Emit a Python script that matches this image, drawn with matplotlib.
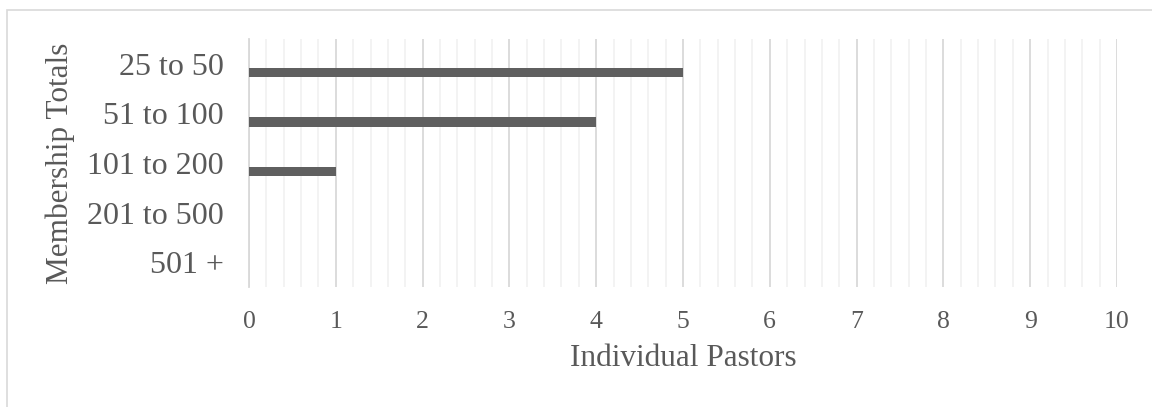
import matplotlib.pyplot as plt
from matplotlib.patches import Rectangle
from matplotlib.ticker import MultipleLocator

# --- data ---
categories = ["25 to 50", "51 to 100", "101 to 200", "201 to 500", "501 +"]
pastors = [5, 4, 1, 0, 0]
x_ticks = list(range(0, 11))

text_color = "#595959"
bar_color = "#5f5f5f"

plt.rcParams["font.family"] = ["Liberation Serif", "DejaVu Serif"]

fig = plt.figure(figsize=(11.52, 4.07), dpi=100)
ax = fig.add_axes([249 / 1152, 1 - 287 / 407, (1117 - 249) / 1152, (287 - 39) / 407])

# outer chart border (runs off the right and bottom edge)
fig.patches.append(Rectangle((7 / 1152, -0.1), 1.2, 1 - 10 / 407 + 0.1,
                             transform=fig.transFigure, fill=False,
                             edgecolor="#d9d9d9", linewidth=1.2))

pos = list(range(len(categories)))
bar_pos = [p + 0.17 for p in pos]
ax.barh(bar_pos, pastors, height=0.19, color=bar_color, zorder=3)

ax.set_xlim(0, 10)
ax.set_ylim(len(categories) - 0.5, -0.5)
ax.set_xticks(x_ticks)
ax.xaxis.set_minor_locator(MultipleLocator(0.2))
ax.set_yticks(pos)
ax.set_yticklabels(categories)

ax.grid(axis="x", which="major", color="#d9d9d9", linewidth=1.3, zorder=0)
ax.grid(axis="x", which="minor", color="#f2f2f2", linewidth=1.3, zorder=0)
ax.grid(axis="y", visible=False)

for side in ["top", "right", "bottom"]:
    ax.spines[side].set_visible(False)
ax.spines["left"].set_color("#d9d9d9")
ax.spines["left"].set_linewidth(1.3)

ax.tick_params(axis="x", which="both", length=0, pad=17, labelsize=18.5, labelcolor=text_color)
ax.tick_params(axis="y", length=0, pad=18, labelsize=23, labelcolor=text_color)

ax.set_xlabel("Individual Pastors", fontsize=22.5, color=text_color, labelpad=8)
ax.set_ylabel("Membership Totals", fontsize=22.5, color=text_color, labelpad=9)

fig.savefig("out.png", dpi=100, facecolor="white")
